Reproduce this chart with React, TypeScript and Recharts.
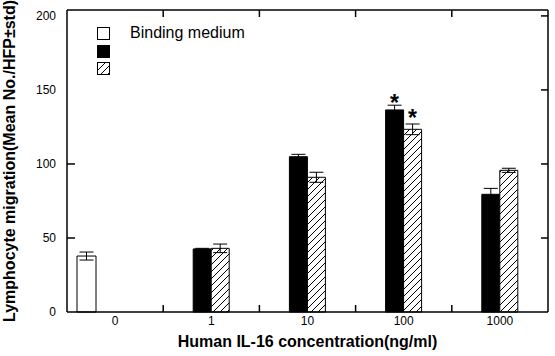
import React from "react";
import { BarChart, Bar, XAxis, YAxis, ErrorBar, LabelList } from "recharts";

const concentrations = ["0", "1", "10", "100", "1000"];
const bindingMedium = [37.8, null, null, null, null];
const bindingMediumErr = [2.7, null, null, null, null];
const solidValues = [null, 42.6, 104.9, 136.5, 79.5];
const solidErr = [null, 0.4, 1.6, 3.2, 4.0];
const hatchedValues = [null, 43.0, 91.0, 123.4, 95.7];
const hatchedErr = [null, 2.9, 3.4, 3.6, 1.4];
const solidSignificant = [false, false, false, true, false];
const hatchedSignificant = [false, false, false, true, false];

const yTicks = [0, 50, 100, 150, 200];
const leftTickMarks = [50, 100];
const rightTickMarks = [50, 100, 150, 200];

const data = concentrations.map((conc, i) => ({
  conc,
  binding: bindingMedium[i],
  bindingErr: bindingMediumErr[i],
  solid: solidValues[i],
  solidErr: solidErr[i],
  solidSig: solidSignificant[i],
  hatched: hatchedValues[i],
  hatchedErr: hatchedErr[i],
  hatchedSig: hatchedSignificant[i],
}));

const FONT = "Arial, 'Liberation Sans', sans-serif";
const Y_MAX = 204;
// plot box (matches the chart margins / axis sizes below)
const PLOT = { left: 67, top: 10, right: 548, bottom: 312 };
const MARK = 7;
const TICK_MARGIN = 11;

const py = (v: number) => PLOT.top + ((Y_MAX - v) * (PLOT.bottom - PLOT.top)) / Y_MAX;
const band = (PLOT.right - PLOT.left) / concentrations.length;

function LeftTick(props: any) {
  const { x, y, payload } = props;
  return (
    <text x={x} y={y} dy="0.3em" textAnchor="end" fontSize={12} fontFamily={FONT} fill="#000">
      {payload.value}
    </text>
  );
}

function BottomTick(props: any) {
  const { x, y, payload } = props;
  return (
    <text x={x} y={y + 13} textAnchor="middle" fontSize={12} fontFamily={FONT} fill="#000">
      {payload.value}
    </text>
  );
}

function starLabel(values: (number | null)[], errs: (number | null)[]) {
  return (props: any) => {
    const { x, y, width, height, value, index } = props;
    const v = values[index];
    if (!value || v == null) return null;
    const pxPerUnit = Number(height) / v;
    const errTop = Number(y) - (errs[index] ?? 0) * pxPerUnit;
    return (
      <text
        x={Number(x) + Number(width) / 2}
        y={errTop + 4}
        textAnchor="middle"
        fontSize={23}
        fontWeight="bold"
        fontFamily={FONT}
        fill="#000"
      >
        *
      </text>
    );
  };
}

function Seg({ x1, y1, x2, y2 }: { x1: number; y1: number; x2: number; y2: number }) {
  return <line x1={x1} y1={y1} x2={x2} y2={y2} stroke="#000000" strokeWidth={1.5} />;
}

// frame, inward tick marks and legend drawn over the chart
function Overlay() {
  const boundaries = concentrations.slice(1).map((_, i) => PLOT.left + band * (i + 1));
  return (
    <svg
      width={555}
      height={356}
      viewBox="0 0 555 356"
      style={{ position: "absolute", left: 0, top: 0, pointerEvents: "none", zIndex: 5 }}
    >
      <defs>
        <pattern id="legendHatch" patternUnits="userSpaceOnUse" width={7} height={7}>
          <rect width={7} height={7} fill="#fff" />
          <path d="M0,7 L7,0 M-1,1 L1,-1 M6,8 L8,6" stroke="#000" strokeWidth={1} />
        </pattern>
      </defs>
      <Seg x1={PLOT.left} y1={PLOT.top} x2={PLOT.right} y2={PLOT.top} />
      <Seg x1={PLOT.right} y1={PLOT.top} x2={PLOT.right} y2={PLOT.bottom} />
      {leftTickMarks.map((v) => (
        <Seg key={`l${v}`} x1={PLOT.left} y1={py(v)} x2={PLOT.left + MARK + 1} y2={py(v)} />
      ))}
      {rightTickMarks.map((v) => (
        <Seg key={`r${v}`} x1={PLOT.right - MARK} y1={py(v)} x2={PLOT.right} y2={py(v)} />
      ))}
      {boundaries.map((bx) => (
        <g key={bx}>
          <Seg x1={bx} y1={PLOT.top} x2={bx} y2={PLOT.top + MARK} />
          <Seg x1={bx} y1={PLOT.bottom} x2={bx} y2={PLOT.bottom - MARK} />
        </g>
      ))}
      <rect x={97.5} y={27.5} width={12} height={12} fill="#fff" stroke="#000" />
      <rect x={97.5} y={45.5} width={12} height={12} fill="#000" stroke="#000" />
      <rect x={97.5} y={62.5} width={12} height={12} fill="url(#legendHatch)" stroke="#000" />
      <text x={130} y={38} fontSize={16} fontFamily={FONT} fill="#000">
        Binding medium
      </text>
    </svg>
  );
}

export default function App() {
  return (
    <div style={{ position: "absolute", left: 0, top: 0, width: 555, height: 356, background: "#fff" }}>
      <BarChart
        width={555}
        height={356}
        data={data}
        margin={{ top: PLOT.top, right: 555 - PLOT.right, bottom: 0, left: 0 }}
        barGap={0}
      >
        <defs>
          <pattern id="barHatch" patternUnits="userSpaceOnUse" width={7} height={7}>
            <rect width={7} height={7} fill="#fff" />
            <path d="M0,7 L7,0 M-1,1 L1,-1 M6,8 L8,6" stroke="#000" strokeWidth={1} />
          </pattern>
        </defs>
        <XAxis
          xAxisId="main"
          dataKey="conc"
          height={356 - PLOT.bottom}
          interval={0}
          tickLine={false}
          tickSize={0}
          tickMargin={0}
          axisLine={{ stroke: "#000", strokeWidth: 1.5 }}
          tick={BottomTick}
          label={(p: any) => (
            <text
              x={p.viewBox.x + p.viewBox.width / 2}
              y={347}
              textAnchor="middle"
              fontSize={16}
              fontWeight="bold"
              fontFamily={FONT}
              fill="#000"
            >
              Human IL-16 concentration(ng/ml)
            </text>
          )}
        />
        <XAxis xAxisId="w" dataKey="conc" hide padding={{ left: 0, right: 284 }} />
        <YAxis
          yAxisId="left"
          width={PLOT.left}
          domain={[0, Y_MAX]}
          ticks={yTicks}
          interval={0}
          tickLine={false}
          tickSize={0}
          tickMargin={TICK_MARGIN}
          axisLine={{ stroke: "#000", strokeWidth: 1.5 }}
          tick={LeftTick}
          label={(p: any) => {
            const cy = p.viewBox.y + p.viewBox.height / 2;
            return (
              <text
                x={15}
                y={cy}
                transform={`rotate(-90, 15, ${cy})`}
                textAnchor="middle"
                fontSize={16}
                fontWeight="bold"
                fontFamily={FONT}
                fill="#000"
              >
                Lymphocyte migration(Mean No./HFP±std)
              </text>
            );
          }}
        />
        <Bar
          xAxisId="w"
          yAxisId="left"
          dataKey="binding"
          barSize={19}
          fill="#fff"
          stroke="#000"
          isAnimationActive={false}
        >
          <ErrorBar dataKey="bindingErr" width={7} stroke="#000" strokeWidth={1} direction="y" />
        </Bar>
        <Bar
          xAxisId="main"
          yAxisId="left"
          dataKey="solid"
          barSize={18}
          fill="#000"
          stroke="#000"
          isAnimationActive={false}
        >
          <ErrorBar dataKey="solidErr" width={7} stroke="#000" strokeWidth={1} direction="y" />
          <LabelList dataKey="solidSig" content={starLabel(solidValues, solidErr)} />
        </Bar>
        <Bar
          xAxisId="main"
          yAxisId="left"
          dataKey="hatched"
          barSize={18}
          fill="url(#barHatch)"
          stroke="#000"
          isAnimationActive={false}
        >
          <ErrorBar dataKey="hatchedErr" width={7} stroke="#000" strokeWidth={1} direction="y" />
          <LabelList dataKey="hatchedSig" content={starLabel(hatchedValues, hatchedErr)} />
        </Bar>
      </BarChart>
      <Overlay />
    </div>
  );
}
